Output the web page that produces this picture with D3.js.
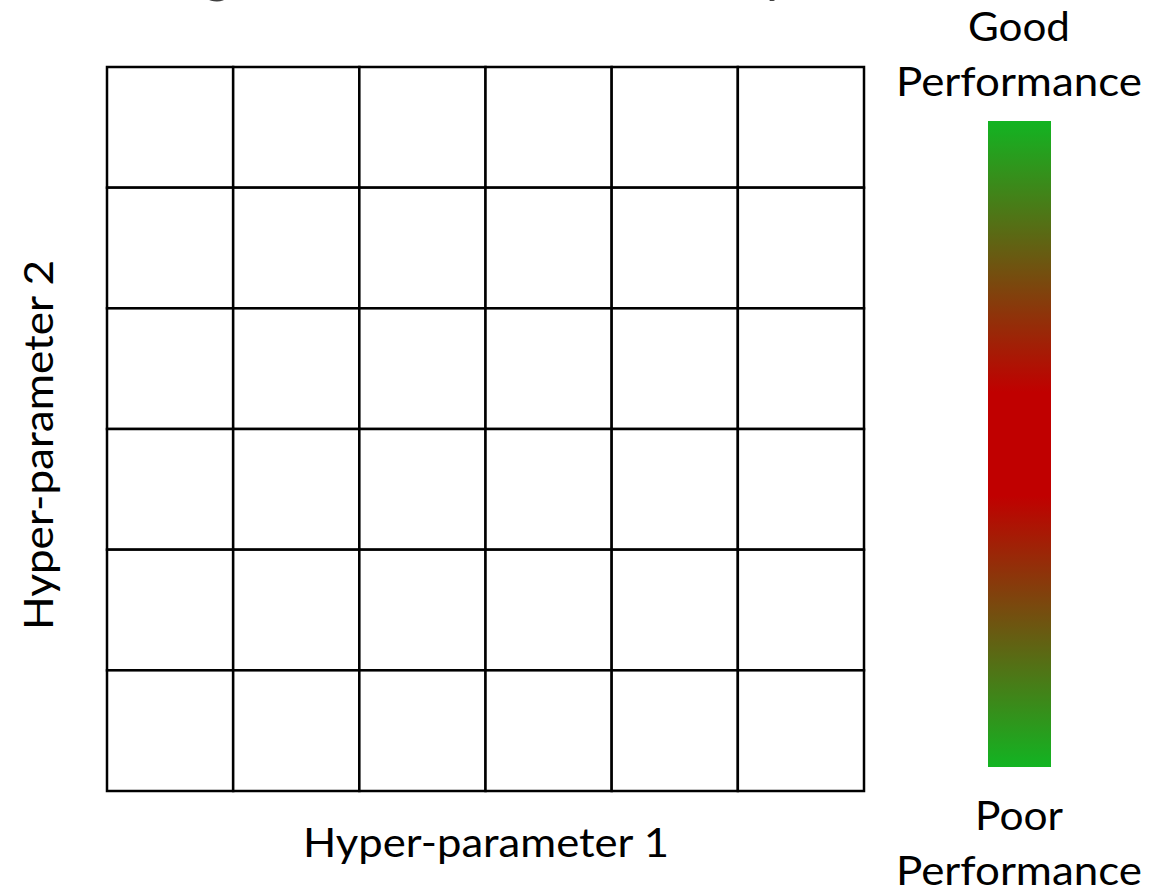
<!DOCTYPE html>
<html>
<head>
<meta charset="utf-8">
<script src="https://cdn.jsdelivr.net/npm/d3@7"></script>
<style>
  html, body { margin: 0; padding: 0; background: #ffffff; overflow: hidden; }
  svg { display: block; }
  text { font-family: Lato, "Open Sans", sans-serif; }
</style>
</head>
<body>
<svg id="chart" width="1158" height="891"></svg>
<script>
// ---- data ----
const hyperParam1Levels = ["1", "2", "3", "4", "5", "6"];
const hyperParam2Levels = ["1", "2", "3", "4", "5", "6"];
const cellFill = ["#ffffff"]; // all cells empty (unfilled grid)
const colorbarStops = [0, 0.42, 0.58, 1];
const colorbarColors = ["#12b422", "#c00000", "#c00000", "#12b422"];
const colorbarTopLabel = ["Good", "Performance"];
const colorbarBottomLabel = ["Poor", "Performance"];
const xAxisTitle = "Hyper-parameter 1";
const yAxisTitle = "Hyper-parameter 2";
const chartTitle = "Tuning Grid Search Accuracy";

// ---- layout ----
const svg = d3.select("#chart");
const gx = d3.scaleBand().domain(hyperParam1Levels).range([107, 864]).padding(0);
const gy = d3.scaleBand().domain(hyperParam2Levels).range([67, 791]).padding(0);

const cells = [];
hyperParam2Levels.forEach(r => hyperParam1Levels.forEach(c => cells.push({ r, c })));

// partially visible title (cut off at the top)
svg.append("text")
  .attr("x", 62).attr("y", -10)
  .attr("font-size", 64)
  .attr("fill", "#404040")
  .attr("textLength", 730)
  .attr("lengthAdjust", "spacingAndGlyphs")
  .text(chartTitle);

// grid cells
svg.append("g").selectAll("rect")
  .data(cells)
  .join("rect")
  .attr("x", d => gx(d.c))
  .attr("y", d => gy(d.r))
  .attr("width", gx.bandwidth())
  .attr("height", gy.bandwidth())
  .attr("fill", cellFill[0])
  .attr("stroke", "#000")
  .attr("stroke-width", 2.5);

// axis titles
svg.append("text")
  .attr("x", 486).attr("y", 857)
  .attr("text-anchor", "middle")
  .attr("font-size", 40)
  .attr("fill", "#000")
  .attr("textLength", 366)
  .attr("lengthAdjust", "spacingAndGlyphs")
  .text(xAxisTitle);

svg.append("text")
  .attr("transform", "translate(53,445) rotate(-90)")
  .attr("text-anchor", "middle")
  .attr("font-size", 40)
  .attr("fill", "#000")
  .attr("textLength", 370)
  .attr("lengthAdjust", "spacingAndGlyphs")
  .text(yAxisTitle);

// colorbar
const defs = svg.append("defs");
const grad = defs.append("linearGradient")
  .attr("id", "perfGrad")
  .attr("x1", 0).attr("y1", 0).attr("x2", 0).attr("y2", 1);
grad.selectAll("stop")
  .data(colorbarStops)
  .join("stop")
  .attr("offset", d => d)
  .attr("stop-color", (d, i) => colorbarColors[i]);

const cbY = d3.scaleLinear().domain([0, 1]).range([121, 767]);
svg.append("rect")
  .attr("x", 988).attr("y", cbY(0))
  .attr("width", 63).attr("height", cbY(1) - cbY(0))
  .attr("fill", "url(#perfGrad)");

const labelX = 1019;
const topBaselines = [41, 96];
const bottomBaselines = [830, 885];
const labelWidths = { "Good": 102, "Poor": 88, "Performance": 246 };
colorbarTopLabel.forEach((t, i) => {
  svg.append("text").attr("x", labelX).attr("y", topBaselines[i])
    .attr("text-anchor", "middle").attr("font-size", 40).attr("fill", "#000")
    .attr("textLength", labelWidths[t]).attr("lengthAdjust", "spacingAndGlyphs")
    .text(t);
});
colorbarBottomLabel.forEach((t, i) => {
  svg.append("text").attr("x", labelX).attr("y", bottomBaselines[i])
    .attr("text-anchor", "middle").attr("font-size", 40).attr("fill", "#000")
    .attr("textLength", labelWidths[t]).attr("lengthAdjust", "spacingAndGlyphs")
    .text(t);
});
</script>
</body>
</html>
